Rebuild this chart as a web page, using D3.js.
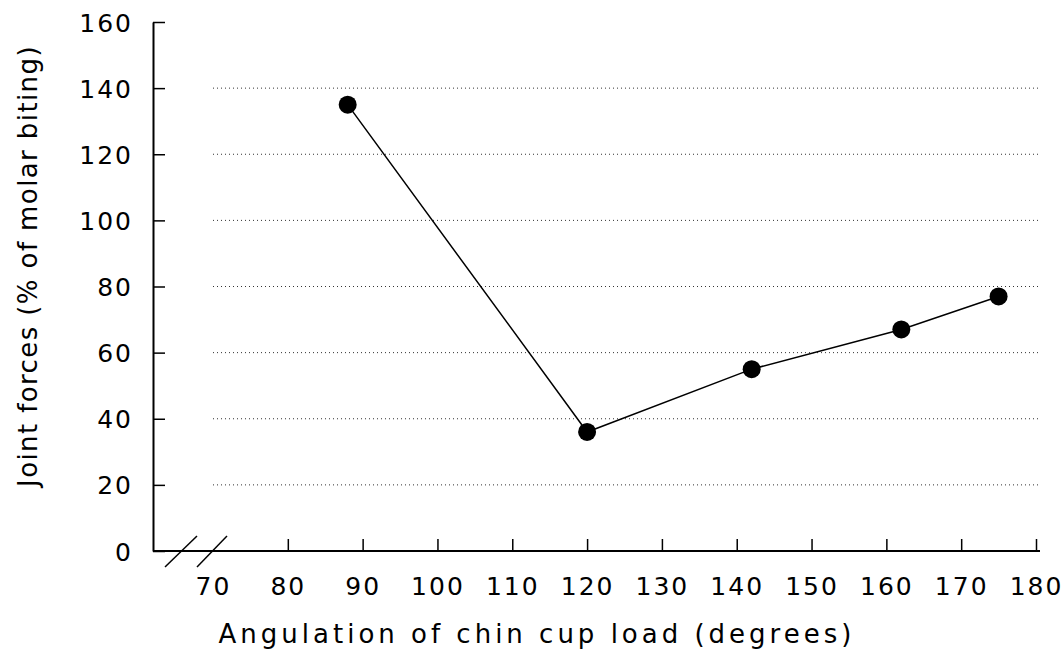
<!DOCTYPE html>
<html>
<head>
  <meta charset="utf-8" />
  <style>
    body { margin: 0; background: #fff; }
    text { font-family: "DejaVu Sans", sans-serif; fill: #000; }
    .tick text { font-size: 25px; letter-spacing: 2px; }
    .grid line { stroke: #333; stroke-dasharray: 1,3; }
  </style>
</head>
<body>
  <svg id="chart" width="1062" height="651"></svg>
  <script src="https://cdn.jsdelivr.net/npm/d3@7"></script>
<script>
var angles = [88, 120, 142, 162, 175];
var forces = [135, 36, 55, 67, 77];
var xTicks = [70, 80, 90, 100, 110, 120, 130, 140, 150, 160, 170, 180];
var yTicks = [0, 20, 40, 60, 80, 100, 120, 140, 160];
var gridValues = [20, 40, 60, 80, 100, 120, 140];

var svg = d3.select('#chart');
var mLeft = 153, mTop = 22, mBottom = 551;

var x = d3.scaleLinear().domain([70, 180]).range([213, 1036]);
var y = d3.scaleLinear().domain([0, 160]).range([mBottom, mTop]);

// dotted gridlines
svg.append('g').attr('class', 'grid')
  .selectAll('line').data(gridValues).enter().append('line')
  .attr('x1', x(70)).attr('x2', x(180) + 4)
  .attr('y1', function (d) { return y(d); })
  .attr('y2', function (d) { return y(d); });

// y axis, ticks pointing inward
var yAxis = svg.append('g')
  .attr('transform', 'translate(' + mLeft + ',0)')
  .call(d3.axisLeft(y).tickValues(yTicks).tickSizeInner(-12).tickSizeOuter(0).tickPadding(20));
yAxis.select('.domain').attr('stroke-width', 2);
yAxis.selectAll('.tick line').attr('stroke-width', 1.5);
yAxis.selectAll('.tick text').attr('dy', '0.36em');

// x axis, line starts at the y axis, ticks point up
var xAxis = svg.append('g')
  .attr('transform', 'translate(0,' + mBottom + ')')
  .call(d3.axisBottom(x).tickValues(xTicks).tickSizeInner(-12).tickSizeOuter(0).tickPadding(26));
xAxis.select('.domain').remove();
xAxis.selectAll('.tick').filter(function (d) { return d === 70; }).select('line').remove();
xAxis.selectAll('.tick line').attr('stroke-width', 1.5);
svg.append('line')
  .attr('x1', mLeft).attr('x2', x(180) + 4)
  .attr('y1', mBottom).attr('y2', mBottom)
  .attr('stroke', '#000').attr('stroke-width', 2);

// axis break marks
svg.append('g').selectAll('line').data([0, 1]).enter().append('line')
  .attr('x1', function (d) { return mLeft + 12 + d * 32; })
  .attr('y1', mBottom + 16)
  .attr('x2', function (d) { return mLeft + 44 + d * 30; })
  .attr('y2', mBottom - 15)
  .attr('stroke', '#000').attr('stroke-width', 1.5);

// data line and markers
var line = d3.line()
  .x(function (d, i) { return x(angles[i]); })
  .y(function (d) { return y(d); });
svg.append('path').datum(forces)
  .attr('d', line)
  .attr('fill', 'none').attr('stroke', '#000').attr('stroke-width', 1.5);
svg.selectAll('circle.pt').data(forces).enter().append('circle')
  .attr('class', 'pt')
  .attr('cx', function (d, i) { return x(angles[i]); })
  .attr('cy', function (d) { return y(d); })
  .attr('r', 9).attr('fill', '#000');

// axis titles
svg.append('text')
  .attr('x', 537).attr('y', 643)
  .attr('text-anchor', 'middle')
  .style('font-size', '26px').style('letter-spacing', '4px')
  .text('Angulation of chin cup load (degrees)');
svg.append('text')
  .attr('transform', 'translate(37,266) rotate(-90)')
  .attr('text-anchor', 'middle')
  .style('font-size', '26px').style('letter-spacing', '1.4px')
  .text('Joint forces (% of molar biting)');
</script>
</body>
</html>
